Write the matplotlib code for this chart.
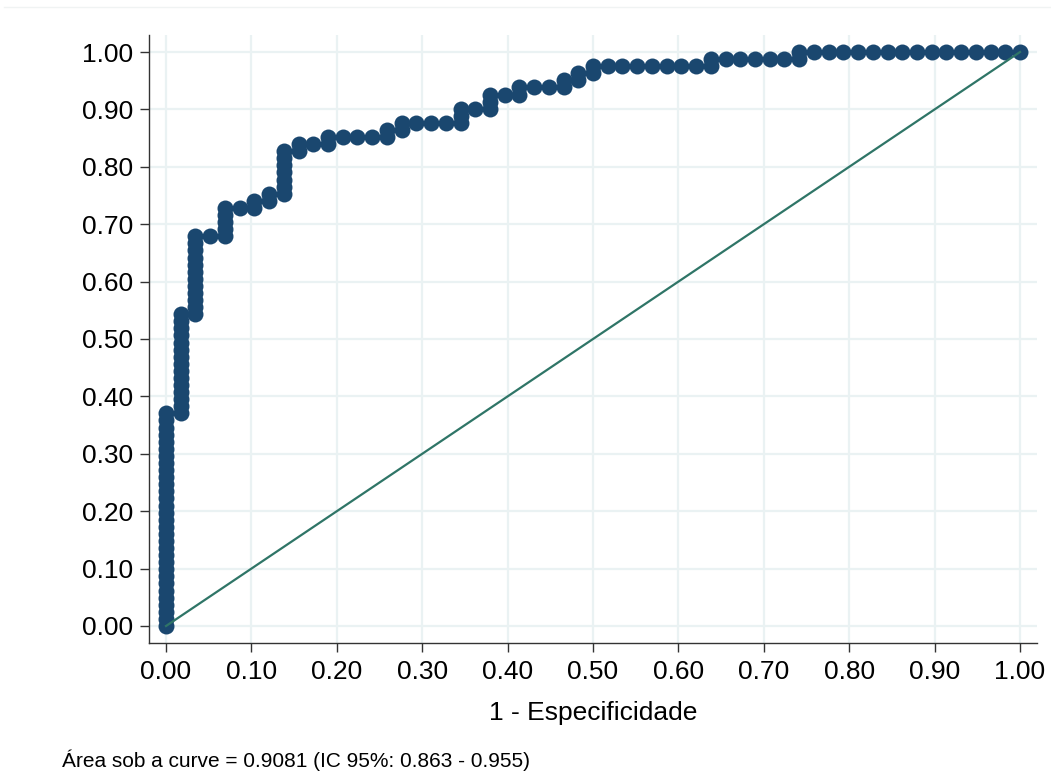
import numpy as np
import matplotlib
matplotlib.use("Agg")
import matplotlib.pyplot as plt
from matplotlib.lines import Line2D

plt.rcParams['font.family'] = ['Liberation Sans', 'DejaVu Sans']

# ROC data: 58 negatives, 81 positives
n_neg = 58
n_pos = 81
# true-positive count reached at each false-positive step k = 0..58
tpr_top = [30, 44, 55, 55, 59, 59, 60, 61, 67, 68,
           68, 69, 69, 69, 69, 70, 71, 71, 71, 71,
           73, 73, 75, 75, 76, 76, 76, 77, 78, 79,
           79, 79, 79, 79, 79, 79, 79, 80, 80, 80,
           80, 80, 80, 81, 81, 81, 81, 81, 81, 81,
           81, 81, 81, 81, 81, 81, 81, 81, 81]
ticks = [0.0, 0.1, 0.2, 0.3, 0.4, 0.5, 0.6, 0.7, 0.8, 0.9, 1.0]
caption = "Área sob a curve = 0.9081 (IC 95%: 0.863 - 0.955)"

# build the (fpr, tpr) points of the empirical curve
fpr, tpr = [], []
prev = 0
for k, top in enumerate(tpr_top):
    for c in range(prev, top + 1):
        fpr.append(k / n_neg)
        tpr.append(c / n_pos)
    prev = top

navy = '#1a476f'
teal = '#2f7567'
grid = '#eaf2f3'

fig = plt.figure(figsize=(10.51, 7.73), dpi=100)
ax = fig.add_axes([0.1418, 0.1682, 0.8449, 0.7865])

ax.plot(fpr, tpr, color=navy, lw=1.2, marker='o', markersize=11.5,
        markeredgewidth=0, zorder=3)
ax.plot([0, 1], [0, 1], color=teal, lw=1.6, zorder=4)

ax.set_xlim(-0.0199, 1.0199)
ax.set_ylim(-0.0296, 1.0296)
ax.set_xticks(ticks)
ax.set_yticks(ticks)
ax.set_xticklabels([f"{t:.2f}" for t in ticks])
ax.set_yticklabels([f"{t:.2f}" for t in ticks])
ax.grid(True, color=grid, lw=1.6, zorder=0)
ax.set_axisbelow(True)

for s in ['top', 'right']:
    ax.spines[s].set_visible(False)
for s in ['left', 'bottom']:
    ax.spines[s].set_color('#333333')
    ax.spines[s].set_linewidth(1.0)
ax.tick_params(axis='both', direction='out', length=6.5, width=1.0,
               color='#333333', labelsize=19, pad=5)
ax.tick_params(axis='x', pad=6)

ax.set_xlabel("1 - Especificidade", fontsize=19, labelpad=12)

fig.text(62 / 1051, 1 - 760 / 773, caption, fontsize=15, va='center', ha='left')

# faint outer border line at the top of the graph region
fig.add_artist(Line2D([4 / 1051, 1.0], [1 - 7 / 773, 1 - 7 / 773],
                      transform=fig.transFigure, color='#f0f3f3', lw=1))

fig.savefig("out.png", dpi=100)
